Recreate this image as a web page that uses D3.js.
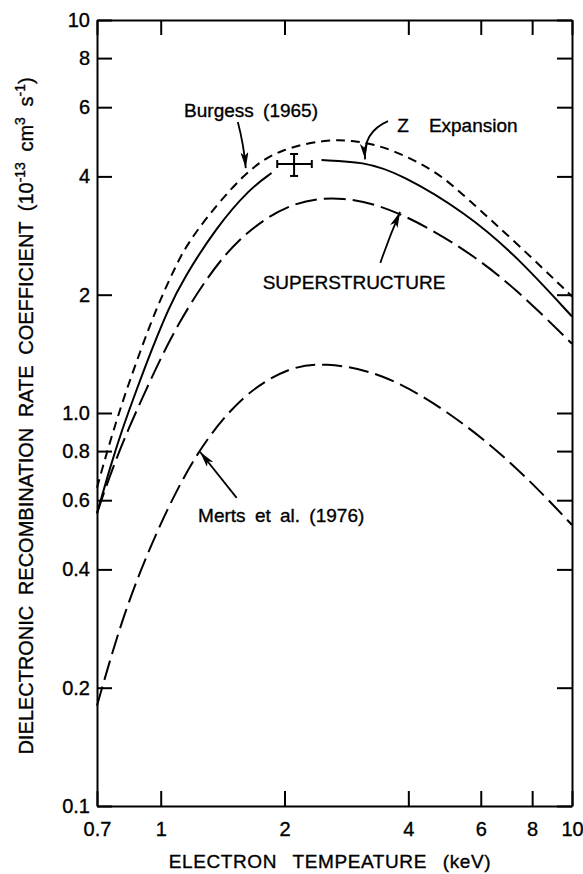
<!DOCTYPE html>
<html>
<head>
<meta charset="utf-8">
<script src="https://cdn.jsdelivr.net/npm/d3@7.9.0/dist/d3.min.js"></script>
<style>
  html, body { margin: 0; padding: 0; background: #fff; }
  svg { display: block; font-family: 'Liberation Sans', Arial, sans-serif; }
  svg text { fill: #000; stroke: #000; stroke-width: 0.35px; }
  .axis path, .axis line { stroke: #000; stroke-width: 2; }
  .axis text { font-size: 20px; }
</style>
</head>
<body>
<svg id="chart" width="583" height="874"></svg>
<script>
// Dielectronic recombination rate coefficient vs electron temperature (log-log)

// Axis ticks
const xTicks = [0.7, 1, 2, 4, 6, 8, 10];
const xTickLabels = ['0.7', '1', '2', '4', '6', '8', '10'];
const yTicks = [0.1, 0.2, 0.4, 0.6, 0.8, 1, 2, 4, 6, 8, 10];
const yTickLabels = ['0.1', '0.2', '0.4', '0.6', '0.8', '1.0', '2', '4', '6', '8', '10'];

// Burgess (1965), short dashes
const burgessT = [0.7, 0.727, 0.768, 0.82, 0.901, 0.98, 1.076, 1.179, 1.619, 1.99, 2.53, 3.0, 3.61, 4.7, 5.55, 7.35, 10];
const burgessRate = [0.645, 0.745, 0.905, 1.122, 1.48, 1.865, 2.31, 2.8, 4.19, 4.72, 4.97, 4.93, 4.72, 4.12, 3.52, 2.7, 1.98];

// Z expansion, solid (broken where the measured point sits)
const zexpT = [0.7, 0.754, 0.805, 0.867, 0.953, 1.046, 1.137, 1.369, 1.65, 1.86, 2.15, 2.46, 3.11, 3.82, 5.55, 7.35, 10];
const zexpRate = [0.555, 0.73, 0.905, 1.122, 1.46, 1.85, 2.2, 2.98, 3.73, 4.08, null, 4.4, 4.36, 4.07, 3.22, 2.5, 1.76];

// SUPERSTRUCTURE, long dashes
const superT = [0.7, 0.713, 0.768, 0.836, 0.918, 1.007, 1.106, 1.261, 1.53, 2.06, 2.78, 3.75, 5.55, 7.35, 10];
const superRate = [0.556, 0.589, 0.735, 0.915, 1.137, 1.4, 1.69, 2.12, 2.78, 3.46, 3.57, 3.29, 2.6, 2.06, 1.5];

// Merts et al. (1976), long dashes
const mertsT = [0.7, 0.811, 0.978, 1.224, 1.589, 2.06, 2.49, 3.42, 4.97, 7.21, 10];
const mertsRate = [0.18, 0.309, 0.504, 0.805, 1.122, 1.311, 1.343, 1.274, 1.018, 0.745, 0.519];

// Measured point with error bars
const measT = 2.11, measTLo = 1.92, measTHi = 2.33;
const measRate = 4.3, measRateLo = 4.01, measRateHi = 4.56;

// Curve labels and their arrows (data coordinates)
const labels = [
  { text: 'Burgess (1965)', T: 1.14, v: 5.9 },
  { text: 'SUPERSTRUCTURE', T: 1.77, v: 2.154 },
  { text: 'Merts et al. (1976)', T: 1.233, v: 0.55 }
];
const arrows = [
  { from: [1.54, 5.5], to: [1.61, 4.2], bend: 2 },
  { from: [3.57, 5.53], to: [3.14, 4.42], bend: -16 },
  { from: [3.42, 2.41], to: [3.82, 3.25], bend: 1 },
  { from: [1.53, 0.608], to: [1.247, 0.796], bend: 0 }
];

const width = 583, height = 874;
const margin = { top: 20, right: 11, bottom: 68, left: 97 };

const svg = d3.select('#chart');

const x = d3.scaleLog().domain([0.7, 10]).range([margin.left, width - margin.right]);
const y = d3.scaleLog().domain([0.1, 10]).range([height - margin.bottom, margin.top]);

// Axes with inward ticks on all four sides
svg.append('g')
  .attr('class', 'axis')
  .attr('transform', `translate(0,${height - margin.bottom})`)
  .call(d3.axisBottom(x).tickValues(xTicks).tickSizeInner(-15).tickSizeOuter(0)
    .tickPadding(16).tickFormat((d, i) => xTickLabels[i]));

svg.append('g')
  .attr('class', 'axis')
  .attr('transform', `translate(0,${margin.top})`)
  .call(d3.axisTop(x).tickValues(xTicks).tickSizeInner(-15).tickSizeOuter(0).tickFormat(''));

svg.append('g')
  .attr('class', 'axis')
  .attr('transform', `translate(${margin.left},0)`)
  .call(d3.axisLeft(y).tickValues(yTicks).tickSizeInner(-15).tickSizeOuter(0)
    .tickPadding(7).tickFormat((d, i) => yTickLabels[i]));

svg.append('g')
  .attr('class', 'axis')
  .attr('transform', `translate(${width - margin.right},0)`)
  .call(d3.axisRight(y).tickValues(yTicks).tickSizeInner(-15).tickSizeOuter(0).tickFormat(''));

// Curves (B-spline smooths out small reading errors)
const line = d3.line()
  .defined((d) => d[1] != null)
  .x((d) => x(d[0]))
  .y((d) => y(d[1]))
  .curve(d3.curveBasis);

const series = [
  { T: burgessT, v: burgessRate, dash: '9,6' },
  { T: zexpT, v: zexpRate, dash: null },
  { T: superT, v: superRate, dash: '22,7' },
  { T: mertsT, v: mertsRate, dash: '20,7' }
];

series.forEach((s) => {
  svg.append('path')
    .datum(d3.zip(s.T, s.v))
    .attr('d', line)
    .attr('fill', 'none')
    .attr('stroke', '#000')
    .attr('stroke-width', 2)
    .attr('stroke-dasharray', s.dash);
});

// Measured point
const eb = svg.append('g').attr('stroke', '#000').attr('stroke-width', 2);
eb.append('line').attr('x1', x(measTLo)).attr('x2', x(measTHi)).attr('y1', y(measRate)).attr('y2', y(measRate));
eb.append('line').attr('x1', x(measT)).attr('x2', x(measT)).attr('y1', y(measRateLo)).attr('y2', y(measRateHi));
[measTLo, measTHi].forEach((t) => {
  eb.append('line').attr('x1', x(t)).attr('x2', x(t)).attr('y1', y(measRate) - 4).attr('y2', y(measRate) + 4);
});
[measRateLo, measRateHi].forEach((r) => {
  eb.append('line').attr('x1', x(measT) - 4).attr('x2', x(measT) + 4).attr('y1', y(r)).attr('y2', y(r));
});

// Arrowhead
svg.append('defs').append('marker')
  .attr('id', 'head')
  .attr('viewBox', '0 0 16 8')
  .attr('refX', 16).attr('refY', 4)
  .attr('markerUnits', 'userSpaceOnUse')
  .attr('markerWidth', 16).attr('markerHeight', 8)
  .attr('orient', 'auto')
  .append('path')
  .attr('d', 'M0,0 L16,4 L0,8 L4,4 Z')
  .attr('fill', '#000');

arrows.forEach((a) => {
  const x0 = x(a.from[0]), y0 = y(a.from[1]);
  const x1 = x(a.to[0]), y1 = y(a.to[1]);
  const len = Math.hypot(x1 - x0, y1 - y0);
  const cx = (x0 + x1) / 2 + a.bend * (y1 - y0) / len;
  const cy = (y0 + y1) / 2 - a.bend * (x1 - x0) / len;
  const p = d3.path();
  p.moveTo(x0, y0);
  p.quadraticCurveTo(cx, cy, x1, y1);
  svg.append('path')
    .attr('d', p.toString())
    .attr('fill', 'none')
    .attr('stroke', '#000')
    .attr('stroke-width', 1.8)
    .attr('marker-end', 'url(#head)');
});

// Curve labels
labels.forEach((l) => {
  svg.append('text')
    .attr('x', x(l.T))
    .attr('y', y(l.v))
    .attr('dy', '0.36em')
    .attr('font-size', 19)
    .attr('word-spacing', 4)
    .text(l.text);
});

const zLabel = svg.append('text')
  .attr('x', x(3.76))
  .attr('y', y(5.41))
  .attr('dy', '0.36em')
  .attr('font-size', 19);
zLabel.append('tspan').text('Z');
zLabel.append('tspan').attr('dx', 20).text('Expansion');

// Axis titles
svg.append('text')
  .attr('x', 330)
  .attr('y', 868)
  .attr('text-anchor', 'middle')
  .attr('font-size', 19)
  .attr('letter-spacing', 0.6)
  .attr('word-spacing', 10)
  .text('ELECTRON TEMPEATURE (keV)');

const yTitle = svg.append('text')
  .attr('transform', 'translate(33,416) rotate(-90)')
  .attr('text-anchor', 'middle')
  .attr('font-size', 20)
  .attr('word-spacing', 5);
yTitle.append('tspan').text('DIELECTRONIC RECOMBINATION RATE COEFFICIENT (10');
yTitle.append('tspan').attr('font-size', 14).attr('dy', -8).text('-13');
yTitle.append('tspan').attr('dy', 8).text(' cm');
yTitle.append('tspan').attr('font-size', 14).attr('dy', -8).text('3');
yTitle.append('tspan').attr('dy', 8).text(' s');
yTitle.append('tspan').attr('font-size', 14).attr('dy', -8).text('-1');
yTitle.append('tspan').attr('dy', 8).text(')');
</script>
</body>
</html>
